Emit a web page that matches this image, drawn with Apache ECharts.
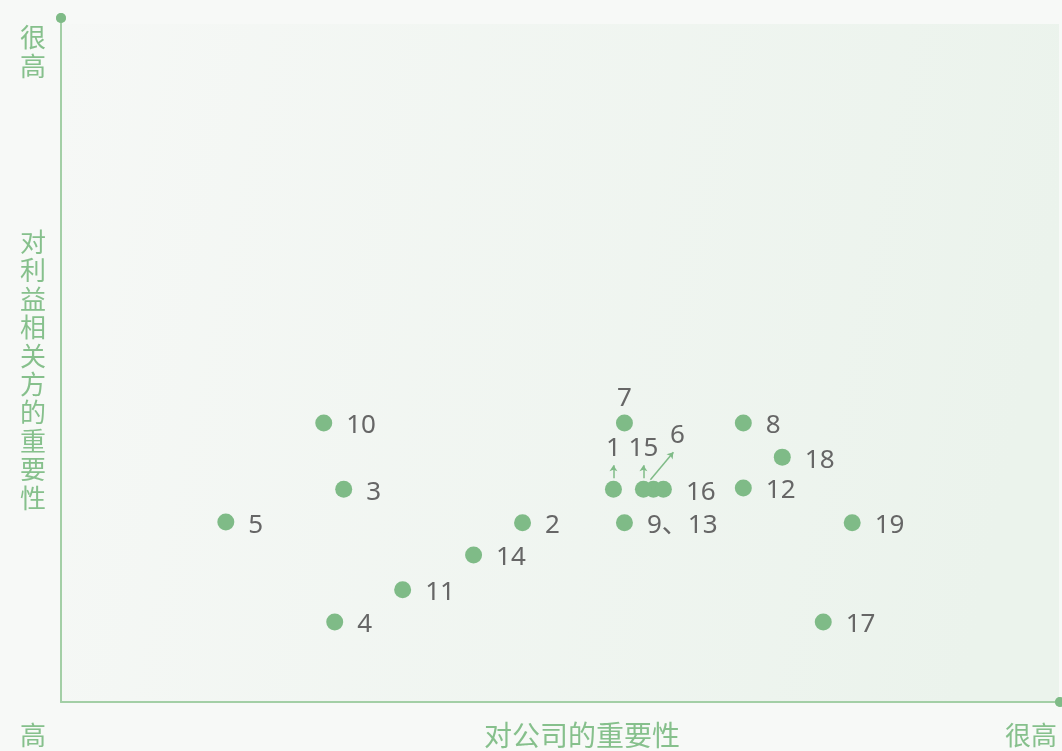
<!DOCTYPE html>
<html>
<head>
<meta charset="utf-8">
<script src="https://cdn.jsdelivr.net/npm/echarts@6/dist/echarts.min.js"></script>
<style>
  html, body { margin: 0; padding: 0; background: #f7f9f7; }
  #chart { width: 1062px; height: 751px; }
</style>
</head>
<body>
<div id="chart"></div>
<script>
// 议题编号及其位置（横轴：对公司的重要性，纵轴：对利益相关方的重要性）
const names   = ['1', '2', '3', '4', '5', '6', '7', '8', '9、13', '10', '11', '12', '14', '15', '16', '17', '18', '19'];
const xValues = [5.53, 4.62, 2.83, 2.74, 1.65, 5.93, 5.64, 6.83, 5.64, 2.63, 3.42, 6.83, 4.13, 5.83, 6.03, 7.63, 7.22, 7.92];
const yValues = [3.11, 2.62, 3.11, 1.17, 2.63, 3.11, 4.08, 4.08, 2.62, 4.08, 1.64, 3.13, 2.15, 3.11, 3.11, 1.17, 3.58, 2.62];

// 指引箭头 [起点x, 起点y, 终点x, 终点y]
const arrows = [
  [5.53, 3.27, 5.53, 3.46],
  [5.83, 3.27, 5.83, 3.46],
  [5.90, 3.25, 6.13, 3.65]
];

const axisMax = 10;

const chartDom = document.getElementById('chart');
const myChart = echarts.init(chartDom);

const green = '#7fbb87';
const textGreen = '#86c08c';
const lineGreen = '#a3cfa6';

// 部分标签放在点的上方
const labelAbove = {
  '1': { position: 'top', distance: 19, offset: [0, 0] },
  '15': { position: 'top', distance: 19, offset: [0, 0] },
  '6': { position: 'top', distance: 32, offset: [24, 0] },
  '7': { position: 'top', distance: 3, offset: [0, 0] }
};

const points = names.map((n, i) => {
  const item = { name: n, value: [xValues[i], yValues[i]] };
  if (labelAbove[n]) item.label = labelAbove[n];
  return item;
});

const option = {
  backgroundColor: '#f7f9f7',
  animation: false,
  grid: { left: 61, right: 2, top: 18, bottom: 49 },
  graphic: [
    {
      type: 'rect', z: -10, silent: true,
      shape: { x: 62, y: 24, width: 997, height: 678 },
      style: {
        fill: new echarts.graphic.LinearGradient(0, 0, 1, 0.3, [
          { offset: 0, color: '#f6f8f6' },
          { offset: 1, color: '#ebf3ec' }
        ])
      }
    },
    {
      type: 'text', left: 20, top: 23,
      style: { text: '很\n高', fill: textGreen, font: '26px "Noto Sans CJK SC"', lineHeight: 29 }
    },
    {
      type: 'text', left: 20, top: 228,
      style: { text: '对\n利\n益\n相\n关\n方\n的\n重\n要\n性', fill: textGreen, font: '26px "Noto Sans CJK SC"', lineHeight: 28.4 }
    },
    {
      type: 'text', left: 20, top: 722,
      style: { text: '高', fill: textGreen, font: '26px "Noto Sans CJK SC"' }
    },
    {
      type: 'text', left: 484, top: 721,
      style: { text: '对公司的重要性', fill: textGreen, font: '28px "Noto Sans CJK SC"' }
    },
    {
      type: 'text', left: 1005, top: 722,
      style: { text: '很高', fill: textGreen, font: '26px "Noto Sans CJK SC"' }
    }
  ],
  xAxis: {
    type: 'value', min: 0, max: axisMax,
    axisLine: { show: true, symbol: ['none', 'circle'], symbolSize: [10, 10], lineStyle: { color: lineGreen, width: 2 } },
    axisTick: { show: false },
    axisLabel: { show: false },
    splitLine: { show: false }
  },
  yAxis: {
    type: 'value', min: 0, max: axisMax,
    axisLine: { show: true, symbol: ['none', 'circle'], symbolSize: [10, 10], lineStyle: { color: lineGreen, width: 2 } },
    axisTick: { show: false },
    axisLabel: { show: false },
    splitLine: { show: false }
  },
  series: [
    {
      type: 'scatter',
      symbolSize: 17,
      itemStyle: { color: green, opacity: 1 },
      label: {
        show: true,
        position: 'right',
        distance: 14,
        offset: [0, 3],
        formatter: '{b}',
        color: '#666666',
        fontSize: 26,
        fontFamily: '"Noto Sans", "Noto Sans CJK SC", sans-serif'
      },
      data: points
    },
    {
      type: 'lines',
      coordinateSystem: 'cartesian2d',
      symbol: ['none', 'arrow'],
      symbolSize: 6,
      lineStyle: { color: green, width: 1.5, opacity: 1 },
      data: arrows.map(a => ({ coords: [[a[0], a[1]], [a[2], a[3]]] }))
    },
    {
      // 坐标轴端点的圆点
      type: 'scatter',
      symbolSize: 10,
      silent: true,
      clip: false,
      itemStyle: { color: green, opacity: 1 },
      label: { show: false },
      data: [[0, axisMax], [axisMax, 0]]
    }
  ]
};

myChart.setOption(option);
</script>
</body>
</html>
